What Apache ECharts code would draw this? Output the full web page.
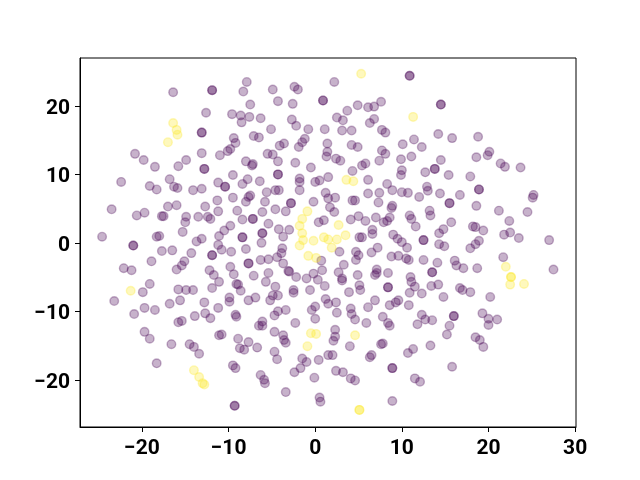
<!DOCTYPE html>
<html>
<head>
<meta charset="utf-8">
<style>html,body{margin:0;padding:0;background:#fff}#chart{width:640px;height:480px}</style>
<script src="https://cdn.jsdelivr.net/npm/echarts@6/dist/echarts.min.js"></script>
</head>
<body>
<div id="chart"></div>
<script>
const xTicks = [-20, -10, 0, 10, 20, 30]
const yTicks = [-20, -10, 0, 10, 20]

// class 0, points that look darker are two points on top of each other
const purplePoints = [
  [-16.4,22.0],[-11.9,22.3],[-11.9,22.3],[-7.9,23.5],[-8.3,22.1],[-12.6,19.0],[-9.6,18.8],[-8.6,18.6],[-8.5,17.6],
  [-13.1,16.1],[-13.1,16.1],[-9.4,15.3],[-9.2,14.6],[-10.1,13.4],[-9.8,13.7],[-11.0,12.8],[-13.1,13.1],[-20.8,13.0],
  [-19.8,12.1],[-18.5,11.1],[-14.9,12.1],[-15.8,11.2],[-8.0,11.9],[-12.8,10.8],[-12.8,10.8],[-9.5,9.9],[-16.8,9.3],[-7.8,9.3],
  [-4.9,22.4],[-2.4,22.8],[-2.0,22.4],[2.2,23.5],[10.9,24.4],[10.9,24.4],[0.9,20.8],[0.9,20.8],[-4.3,20.7],[-2.6,20.3],
  [-7.5,20.2],[4.9,20.1],[6.1,19.8],[6.8,19.9],[7.6,20.6],[3.7,19.3],[-7.6,18.4],[-6.3,18.2],[-2.7,18.0],[-2.2,17.1],
  [2.5,18.3],[3.2,17.9],[6.8,18.1],[6.3,17.5],[-0.8,16.6],[1.1,16.6],[3.1,16.4],[4.2,16.4],[-5.1,16.6],[7.7,16.5],[8.1,16.1],
  [-7.1,15.6],[-6.5,15.4],[-1.2,15.2],[-1.5,14.7],[-1.9,14.0],[-3.6,14.5],[-4.1,14.2],[1.4,14.5],[1.4,13.3],[1.3,12.6],
  [4.2,14.3],[4.9,14.0],[10.1,14.4],[11.4,15.1],[7.7,13.5],[8.1,13.0],[-5.5,13.0],[-4.9,12.9],[-4.3,11.9],[-2.3,11.7],
  [2.4,12.3],[2.9,12.0],[7.4,12.0],[9.9,12.2],[11.1,12.6],[-7.3,11.3],[-7.2,11.5],[5.8,11.6],[5.4,11.3],[-0.5,11.0],
  [4.3,10.5],[10.0,10.6],[9.9,9.9],[-4.3,10.0],[-4.3,10.0],[-6.4,9.0],[-1.8,9.4],[-1.8,8.9],[1.5,9.6],[0.5,9.1],[0.0,8.9],[6.1,9.2],
  [14.5,20.2],[14.5,20.2],[14.2,15.9],[15.8,15.3],[12.3,14.0],[18.8,15.5],[18.6,12.5],[20.1,13.3],[19.9,12.8],[14.5,12.1],
  [21.4,11.6],[21.9,11.1],[23.7,11.0],[13.8,10.8],[13.8,10.8],[12.7,10.3],[15.4,9.9],[17.9,9.7],
  [-22.4,8.9],[-19.1,8.3],[-18.3,7.8],[-16.3,8.2],[-15.9,8.0],[-14.1,7.7],[-13.1,7.9],[-11.2,8.8],[-10.4,8.2],[-10.4,8.2],
  [-8.4,8.6],[-9.5,6.6],[-8.0,6.0],[-23.5,4.9],[-17.0,5.3],[-16.0,5.5],[-12.7,5.3],[-11.3,6.2],[-11.2,4.6],[-9.0,4.7],
  [-20.6,4.0],[-19.7,4.4],[-17.7,3.9],[-17.5,3.9],[-14.9,3.8],[-15.0,3.0],[-13.5,3.8],[-12.4,3.8],[-12.1,3.5],[-8.4,3.4],
  [-9.8,2.5],[-10.5,1.8],[-11.1,1.0],[-15.3,1.6],[-24.6,0.9],[-18.3,0.9],[-18.0,1.0],[-13.1,0.6],[-13.7,0.2],[-8.4,0.8],[-8.4,0.8],
  [-21.0,-0.4],[-21.0,-0.4],[-11.2,-0.3],[-10.8,-1.0],[-9.7,-1.3],[-8.0,-0.9],[-17.7,-1.2],[-16.5,-1.1],[-14.3,-1.5],
  [-11.9,-1.8],[-11.9,-1.8],[-18.9,-2.7],[-15.1,-2.7],[-15.4,-3.3],[-16.0,-3.9],[-22.1,-3.7],[-21.2,-4.0],[-12.2,-4.0],
  [-11.7,-4.7],[-9.8,-3.5],[-9.4,-4.6],[-11.1,-5.7],[-9.1,-6.0],[-8.9,-6.1],[-8.6,-7.0],[-19.1,-6.0],[-19.9,-7.2],
  [-15.8,-6.8],[-14.9,-6.9],[-14.1,-6.9],[-11.9,-6.6],[-9.9,-8.0],[-9.9,-8.6],[-7.7,-8.4],[-23.2,-8.5],[-16.8,-8.9],[-15.6,-8.4],[-12.8,-8.7],
  [-19.7,-9.5],[-18.5,-9.8],[-20.9,-10.4],[-11.2,-9.5],[-13.9,-10.7],[-12.7,-10.3],[-12.1,-11.0],[-9.2,-10.5],[-9.1,-10.8],
  [-15.8,-11.6],[-15.4,-11.4],[-19.7,-13.0],[-19.1,-14.0],[-16.6,-14.8],[-14.5,-14.8],[-14.0,-15.2],[-13.4,-16.2],
  [-11.1,-13.5],[-10.8,-13.4],[-8.9,-14.0],[-7.7,-14.5],[-8.7,-15.4],[-8.2,-15.6],[-9.5,-17.9],[-9.2,-18.3],[-18.3,-17.6],[-9.3,-23.8],[-9.3,-23.8],
  [-0.4,-9.8],[0.0,-9.3],[0.0,-11.1],[-3.4,-9.8],[-4.3,-10.0],[-4.7,-10.6],[2.5,-10.2],[1.5,-8.9],[4.1,-9.6],[4.2,-10.4],
  [4.6,-11.2],[6.1,-9.4],[8.6,-9.1],[10.8,-9.1],[7.8,-10.8],[8.4,-11.7],[8.6,-12.1],[5.9,-11.7],[-2.3,-11.7],[-6.1,-11.5],
  [-6.1,-12.1],[-6.5,-12.1],[-4.7,-13.0],[-3.7,-13.5],[-3.6,-14.2],[-3.4,-14.6],[2.3,-12.7],[2.3,-13.7],[2.1,-14.3],[4.0,-15.1],
  [-6.7,-15.3],[-4.7,-15.9],[-4.4,-17.0],[7.6,-14.8],[7.8,-14.7],[6.3,-16.7],[6.5,-16.4],[10.7,-16.1],[11.3,-15.5],
  [1.5,-16.4],[2.0,-16.4],[-1.5,-16.9],[-1.0,-17.4],[0.4,-17.1],[-1.7,-18.3],[-2.4,-18.9],[8.9,-18.3],[8.9,-18.3],
  [2.4,-18.7],[3.2,-18.9],[4.1,-19.8],[4.6,-20.1],[-0.1,-19.7],[-6.3,-19.3],[-5.9,-20.0],[-5.8,-20.5],[11.5,-19.8],[12.1,-20.3],
  [-3.4,-21.8],[0.5,-22.6],[0.6,-23.2],[8.9,-23.1],
  [12.3,-10.5],[12.7,-11.2],[13.5,-11.3],[11.8,-11.9],[16.0,-10.7],[16.0,-10.7],[15.5,-12.1],[15.2,-13.4],[19.3,-10.3],
  [20.0,-11.1],[21.0,-11.2],[20.0,-12.0],[18.5,-13.8],[19.0,-14.2],[19.4,-15.2],[13.3,-15.0],[15.8,-18.1],
  [8.3,8.6],[8.9,7.7],[-4.6,7.7],[-4.2,7.7],[-7.5,6.9],[-7.7,6.7],[-5.6,7.4],[-5.8,6.0],[-1.8,7.7],[-2.8,5.8],[-2.8,5.8],
  [1.2,7.3],[1.5,6.5],[2.3,6.6],[-0.2,6.0],[4.3,6.2],[4.6,6.2],[6.1,7.2],[7.4,7.3],[7.3,5.9],[10.0,7.4],[10.7,7.3],
  [8.9,5.4],[8.8,5.1],[8.6,3.7],[8.3,3.2],[1.7,5.2],[2.2,4.5],[-4.6,4.9],[-3.4,4.6],[-6.1,4.5],[-7.2,3.5],[-7.2,3.5],
  [-5.4,2.8],[0.4,3.0],[1.0,3.3],[4.1,3.4],[5.0,3.9],[5.8,3.2],[7.0,3.7],[7.9,3.0],[-4.2,2.0],[-3.0,1.9],[-6.1,1.4],[-6.1,1.4],
  [-3.7,0.9],[5.1,0.8],[5.4,0.8],[6.6,1.9],[6.6,1.3],[9.0,1.2],[9.5,0.6],[10.0,0.1],[10.6,-0.7],[-6.2,0.0],[7.2,-0.7],[6.5,-1.4],
  [2.8,-1.3],[4.7,-1.3],[5.0,-1.8],[4.7,-2.5],[-3.8,-0.8],[-3.9,-1.5],[0.7,-2.6],[-4.4,-2.1],[-3.7,-3.0],[-6.3,-2.5],[-5.4,-2.4],
  [-7.7,-3.0],[-7.7,-3.0],[8.8,-2.0],[9.6,-1.9],[10.5,-2.3],[10.8,-2.5],[3.3,-3.2],[0.8,-4.0],[-0.2,-4.5],[2.7,-4.3],
  [-3.1,-4.1],[-3.0,-4.2],[-2.2,-5.0],[-5.4,-4.4],[-7.1,-4.8],[-1.0,-5.2],[0.3,-5.4],[3.1,-5.2],[3.1,-5.5],[4.9,-4.7],
  [7.1,-3.9],[7.1,-4.4],[6.9,-4.7],[8.4,-4.4],[11.0,-5.0],[11.1,-5.7],[11.5,-6.4],[-5.7,-5.7],[1.1,-6.3],[-0.6,-6.9],
  [-4.6,-6.4],[-4.3,-7.7],[-4.9,-7.7],[-2.5,-6.9],[-2.5,-7.3],[3.9,-7.2],[5.1,-6.2],[5.2,-6.9],[8.4,-6.5],[8.4,-6.5],
  [10.9,-7.3],[-6.9,-8.0],[-5.2,-8.4],[1.2,-8.2],[2.4,-8.7],[6.9,-8.4],[9.6,-8.4],[9.3,-8.7],
  [12.9,8.2],[13.0,7.6],[18.9,7.8],[18.9,7.8],[12.0,6.7],[14.4,7.2],[16.7,7.0],[15.5,5.8],[15.5,5.8],[18.6,5.4],[25.2,7.0],[25.1,6.6],
  [21.2,4.7],[24.5,4.5],[13.2,4.7],[13.3,4.0],[10.9,4.0],[11.1,3.5],[11.6,2.4],[15.7,3.0],[22.4,3.2],[18.2,2.4],[18.5,2.3],[19.4,1.8],
  [14.8,2.0],[14.3,1.4],[21.8,1.2],[22.5,1.5],[23.5,0.7],[27.0,0.4],[12.5,0.4],[12.5,0.4],[18.9,0.3],[18.5,-0.2],[17.9,-0.8],
  [14.3,-0.2],[14.9,-0.5],[12.5,-2.5],[14.1,-2.9],[16.1,-2.6],[16.3,-3.3],[17.1,-3.7],[18.7,-3.7],[21.7,-2.1],[27.5,-3.9],
  [13.5,-4.3],[13.5,-4.3],[13.4,-6.3],[14.2,-6.1],[16.7,-6.6],[17.0,-6.9],[17.9,-7.2],[12.3,-7.4],[14.8,-7.9],[20.2,-7.9]
]

// class 1
const yellowPoints = [
  [5.3,24.7],[11.3,18.4],[-16.4,17.5],[-16.0,16.5],[-15.9,15.8],[-17.0,14.7],[3.6,9.2],[4.4,9.0],[-0.9,4.6],[-1.5,3.5],
  [2.7,2.6],[-1.8,2.5],[-1.5,1.4],[-1.4,0.4],[-1.8,-0.4],[-0.2,0.3],[1.0,0.8],[1.5,0.5],[2.5,0.5],[3.5,1.1],[1.9,-0.7],
  [-0.8,-1.9],[0.1,-2.2],[-21.3,-7.0],[22.0,-3.5],[22.6,-5.0],[22.6,-5.0],[22.5,-6.1],[24.1,-6.0],[-14.0,-18.6],[-13.4,-19.6],
  [-13.0,-20.5],[-12.8,-20.7],[-0.5,-13.2],[0.1,-13.3],[4.6,-13.5],[-0.9,-15.1],[5.1,-24.4],[5.1,-24.4]
]

const labelFont = { fontFamily: 'Roboto', fontWeight: 'bold', fontSize: 21, color: '#000' }

function tickLabel(v) {
  return String(v).replace('-', '\u2212')
}

function dots(points, color) {
  return {
    type: 'scatter',
    data: points,
    symbolSize: 8.6,
    itemStyle: { color: color, opacity: 0.3, borderColor: color, borderWidth: 1.4 },
    silent: true
  }
}

function axis(min, max, ticks, labelExtra) {
  return {
    type: 'value',
    min: min,
    max: max,
    splitLine: { show: false },
    axisLine: { show: true, onZero: false, lineStyle: { color: '#000', width: 1 } },
    axisTick: { show: true, length: 5, customValues: ticks, lineStyle: { color: '#000', width: 1 } },
    axisLabel: Object.assign({ customValues: ticks, formatter: tickLabel }, labelFont, labelExtra)
  }
}

const myCharts = echarts.init(document.getElementById('chart'), null, { renderer: 'canvas' })
myCharts.setOption({
  animation: false,
  backgroundColor: '#fff',
  grid: { show: true, left: 80, right: 64, top: 58, bottom: 53, borderColor: '#000', borderWidth: 1, backgroundColor: 'transparent' },
  xAxis: axis(-27.15, 30.1, xTicks, { margin: 11 }),
  yAxis: axis(-26.9, 27, yTicks, { margin: 10, verticalAlign: 'top', padding: [-8, 0, 0, 0] }),
  series: [dots(purplePoints, '#440154'), dots(yellowPoints, '#fde725')]
})
</script>
</body>
</html>
